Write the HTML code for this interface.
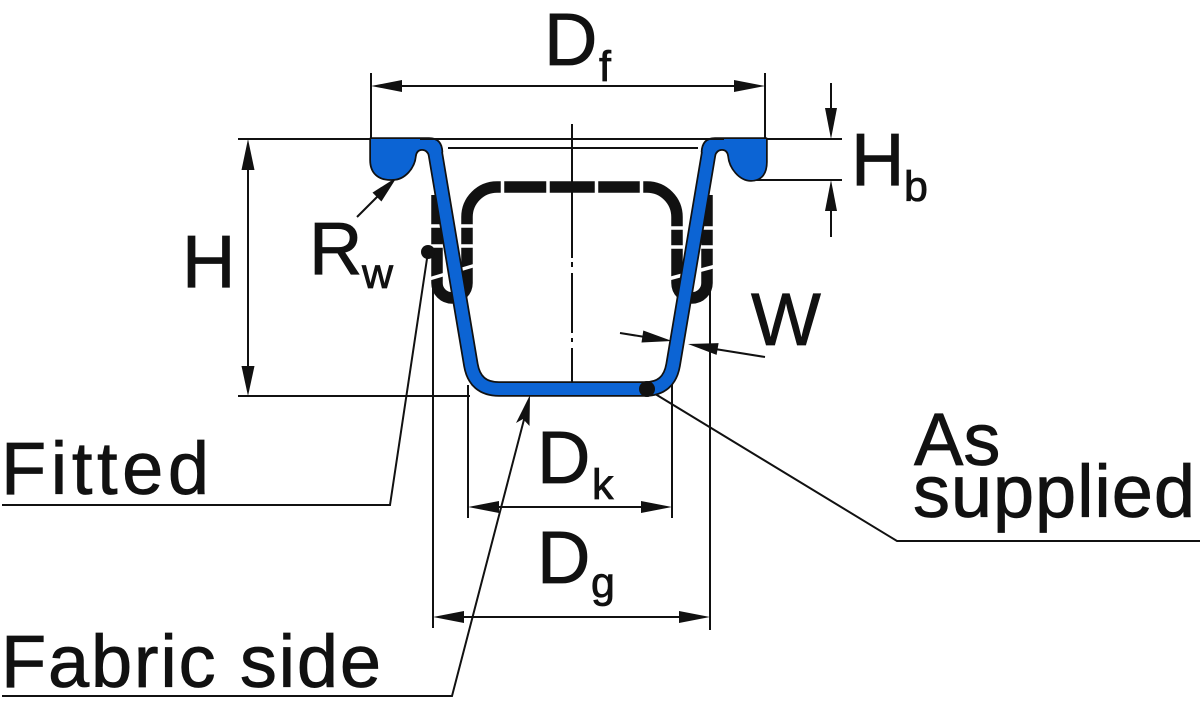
<!DOCTYPE html>
<html>
<head>
<meta charset="utf-8">
<style>
html,body{margin:0;padding:0;background:#fff;}
svg{display:block;}
text{font-family:"Liberation Sans",Arial,sans-serif;fill:#111;stroke:#111;stroke-width:0.8;}
</style>
</head>
<body>
<svg width="1200" height="713" viewBox="0 0 1200 713" xmlns="http://www.w3.org/2000/svg">
<g stroke="#111" stroke-width="2" fill="none">
  <!-- Df -->
  <line x1="371" y1="73" x2="371" y2="140"/>
  <line x1="765" y1="73" x2="765" y2="140"/>
  <line x1="380" y1="86" x2="756" y2="86"/>
  <!-- top lines -->
  <line x1="238" y1="139" x2="842" y2="139"/>
  <line x1="448" y1="148" x2="698" y2="148"/>
  <!-- Hb -->
  <line x1="750" y1="180" x2="842" y2="180"/>
  <line x1="831" y1="83" x2="831" y2="125"/>
  <line x1="831" y1="195" x2="831" y2="237"/>
  <!-- H -->
  <line x1="238" y1="396" x2="470" y2="396"/>
  <line x1="248" y1="150" x2="248" y2="385"/>
  <!-- Dg ext -->
  <line x1="433" y1="265" x2="433" y2="628"/>
  <line x1="710" y1="282" x2="710" y2="630"/>
  <line x1="442" y1="617" x2="701" y2="617"/>
  <!-- Dk ext -->
  <line x1="468" y1="385" x2="468" y2="518"/>
  <line x1="672" y1="380" x2="672" y2="518"/>
  <line x1="477" y1="507" x2="663" y2="507"/>
  <!-- center line -->
  <line x1="572" y1="124" x2="572" y2="258"/>
  <line x1="572" y1="262" x2="572" y2="267"/>
  <line x1="572" y1="273" x2="572" y2="333"/>
  <line x1="572" y1="338" x2="572" y2="342"/>
  <line x1="572" y1="348" x2="572" y2="396"/>
  <!-- W arrows shafts -->
  <line x1="620" y1="333" x2="645" y2="337"/>
  <line x1="765" y1="357" x2="715" y2="349"/>
  <!-- Rw shaft -->
  <line x1="357" y1="217" x2="380" y2="194"/>
  <!-- leaders -->
  <polyline points="428,252 390,505 2,505"/>
  <polyline points="527,408 452,696 2,696"/>
  <polyline points="647,389 897,541 1200,541"/>
</g>
<!-- arrowheads -->
<g fill="#111">
  <polygon points="371,86 402,80 402,92"/>
  <polygon points="765,86 734,80 734,92"/>
  <polygon points="248,139 241.5,170 254.5,170"/>
  <polygon points="248,396 241.5,366 254.5,366"/>
  <polygon points="831,139 825,108 837,108"/>
  <polygon points="831,180 825,211 837,211"/>
  <polygon points="468,507 499,501 499,513"/>
  <polygon points="672,507 641,501 641,513"/>
  <polygon points="433,617 464,611 464,623"/>
  <polygon points="710,617 679,611 679,623"/>
  <polygon points="672,341 641.5,342.5 643.3,330.5"/>
  <polygon points="688,344 718.6,343.1 716.6,354.9"/>
  <polygon points="397,177 381.4,201.5 372.5,192.6"/>
  <polygon points="530,395 529.5,426 523,419 516,423"/>
</g>
<!-- as supplied dashed hairpin -->
<path d="M437,195 L437,283 A15,15 0 0 0 467,283 L467,217 A30,30 0 0 1 497,187 L647,187 A30,30 0 0 1 677,217 L677,283 A15,15 0 0 0 707,283 L707,195" stroke="#111" stroke-width="11.5" fill="none"/>
<g stroke="#fff" stroke-width="3.5">
  <line x1="502.5" y1="178" x2="502.5" y2="196"/>
  <line x1="548" y1="178" x2="548" y2="196"/>
  <line x1="596.5" y1="178" x2="596.5" y2="196"/>
  <line x1="641.5" y1="178" x2="641.5" y2="196"/>
  <line x1="429" y1="226" x2="476" y2="226"/>
  <line x1="429" y1="246" x2="476" y2="246"/>
  <line x1="429" y1="279" x2="476" y2="265"/>
  <line x1="668" y1="228" x2="716" y2="228"/>
  <line x1="668" y1="247" x2="716" y2="247"/>
  <line x1="668" y1="279" x2="716" y2="266"/>
</g>
<!-- blue profile outlines -->
<path d="M371,139 H429 Q441,139 441.5,152 L430,156 Q428,149 422,149 Q416,149 415,156 C414,168 404,179 393,179 C378,180 371,172 371,160 Z" fill="#111" stroke="#111" stroke-width="3.5" stroke-linejoin="round"/>
<path d="M766,139 H715 Q703,139 702.5,152 L714,156 Q716,149 722,149 Q728,149 729,156 C730,168 740,180 751,180 C762,180 766,172 766,162 Z" fill="#111" stroke="#111" stroke-width="3.5" stroke-linejoin="round"/>
<path d="M434.6,149 L470.9,365 Q475,389 499,389 L645,389 Q669,389 673.1,365 L709.4,149" fill="none" stroke="#111" stroke-width="15.5" stroke-linejoin="round"/>
<!-- blue fills -->
<path d="M371,139 H429 Q441,139 441.5,152 L430,156 Q428,149 422,149 Q416,149 415,156 C414,168 404,179 393,179 C378,180 371,172 371,160 Z" fill="#0c64d4"/>
<path d="M766,139 H715 Q703,139 702.5,152 L714,156 Q716,149 722,149 Q728,149 729,156 C730,168 740,180 751,180 C762,180 766,172 766,162 Z" fill="#0c64d4"/>
<path d="M434.6,149 L470.9,365 Q475,389 499,389 L645,389 Q669,389 673.1,365 L709.4,149" fill="none" stroke="#0c64d4" stroke-width="12" stroke-linejoin="round"/>
<line x1="420" y1="139" x2="724" y2="139" stroke="#111" stroke-width="2"/>
<!-- dots -->
<circle cx="428" cy="252" r="7" fill="#111"/>
<circle cx="647" cy="389" r="8" fill="#111"/>
<!-- labels -->
<text x="544" y="65" font-size="74">D</text>
<text x="599" y="81" font-size="43">f</text>
<text x="182" y="287" font-size="74">H</text>
<text x="309" y="274" font-size="74">R</text>
<text x="362" y="288" font-size="43">w</text>
<text x="851" y="185" font-size="74">H</text>
<text x="904" y="201" font-size="43">b</text>
<text x="751" y="345" font-size="74">W</text>
<text x="537" y="483" font-size="74">D</text>
<text x="592" y="499" font-size="43">k</text>
<text x="537" y="583" font-size="74">D</text>
<text x="591" y="597" font-size="43">g</text>
<text x="1" y="494" font-size="74" textLength="208" lengthAdjust="spacing">Fitted</text>
<text x="1" y="687" font-size="74" textLength="380" lengthAdjust="spacing">Fabric side</text>
<text x="914" y="465" font-size="74">As</text>
<text x="913" y="517" font-size="74" textLength="282" lengthAdjust="spacing">supplied</text>
</svg>
</body>
</html>
